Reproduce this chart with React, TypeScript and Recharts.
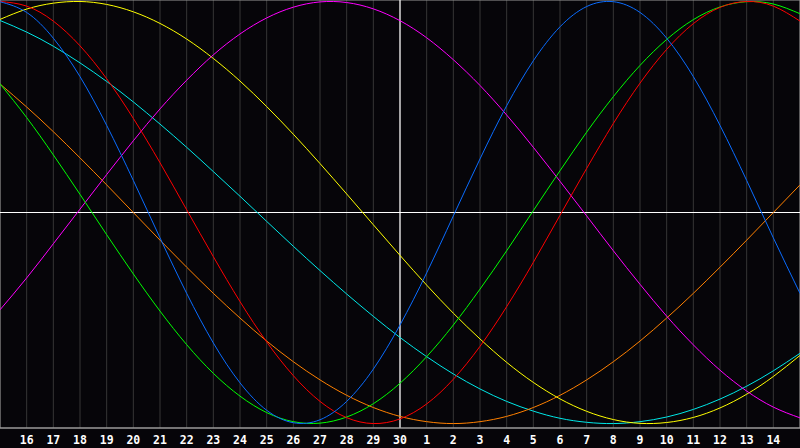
import React from 'react';
import {
  LineChart,
  Line,
  XAxis,
  YAxis,
  CartesianGrid,
  ReferenceLine,
  ReferenceArea,
} from 'recharts';

// day labels, one per column edge (first and last are off-axis)
const days = [
  '15', '16', '17', '18', '19', '20', '21', '22', '23', '24', '25', '26', '27', '28', '29', '30',
  '1', '2', '3', '4', '5', '6', '7', '8', '9', '10', '11', '12', '13', '14', '15',
];

const physical = [
  0.999, 0.948, 0.826, 0.644, 0.413, 0.152, -0.12, -0.383, -0.618, -0.807, -0.937, -0.996, -0.982,
  -0.895, -0.742, -0.533, -0.286, -0.016, 0.254, 0.506, 0.719, 0.88, 0.976, 0.999, 0.948, 0.826,
  0.644, 0.413, 0.152, -0.12, -0.383,
];

const emotional = [
  1.0, 0.978, 0.907, 0.79, 0.634, 0.446, 0.236, 0.013, -0.209, -0.422, -0.613, -0.773, -0.895,
  -0.972, -1.0, -0.978, -0.907, -0.79, -0.634, -0.446, -0.236, -0.013, 0.209, 0.422, 0.613, 0.773,
  0.895, 0.972, 1.0, 0.978, 0.907,
];

const intellectual = [
  0.61, 0.45, 0.273, 0.086, -0.105, -0.291, -0.467, -0.626, -0.762, -0.87, -0.948, -0.991, -0.998,
  -0.969, -0.906, -0.809, -0.683, -0.533, -0.363, -0.181, 0.009, 0.198, 0.381, 0.549, 0.697, 0.82,
  0.914, 0.974, 0.999, 0.988, 0.942,
];

const intuitive = [
  -0.461, -0.31, -0.148, 0.016, 0.18, 0.34, 0.491, 0.627, 0.747, 0.846, 0.922, 0.973, 0.998, 0.995,
  0.965, 0.909, 0.828, 0.724, 0.602, 0.462, 0.309, 0.148, -0.016, -0.181, -0.34, -0.491, -0.627,
  -0.747, -0.846, -0.922, -0.973,
];

const aesthetic = [
  0.915, 0.964, 0.992, 1.0, 0.986, 0.951, 0.896, 0.822, 0.73, 0.623, 0.502, 0.371, 0.232, 0.088,
  -0.058, -0.203, -0.344, -0.477, -0.599, -0.71, -0.805, -0.883, -0.942, -0.981, -0.999, -0.995,
  -0.971, -0.926, -0.861, -0.777, -0.677,
];

const awareness = [
  0.609, 0.5, 0.383, 0.259, 0.131, 0.0, -0.131, -0.259, -0.383, -0.5, -0.609, -0.707, -0.793,
  -0.866, -0.924, -0.966, -0.991, -1.0, -0.991, -0.966, -0.924, -0.866, -0.793, -0.707, -0.609,
  -0.5, -0.383, -0.259, -0.131, 0.0, 0.131,
];

const spiritual = [
  0.91, 0.855, 0.788, 0.709, 0.621, 0.524, 0.419, 0.309, 0.194, 0.077, -0.042, -0.16, -0.275,
  -0.386, -0.492, -0.592, -0.683, -0.765, -0.836, -0.895, -0.941, -0.975, -0.994, -1.0, -0.991,
  -0.969, -0.933, -0.884, -0.823, -0.75, -0.667,
];

const series = [
  { key: 'spiritual', color: '#00e8e8' },
  { key: 'awareness', color: '#ff8000' },
  { key: 'aesthetic', color: '#ffff00' },
  { key: 'intuitive', color: '#ff00ff' },
  { key: 'intellectual', color: '#00ff00' },
  { key: 'emotional', color: '#ff0000' },
  { key: 'physical', color: '#0a6cff' },
];

const data = days.map((day, i) => ({
  i,
  day,
  physical: physical[i],
  emotional: emotional[i],
  intellectual: intellectual[i],
  intuitive: intuitive[i],
  aesthetic: aesthetic[i],
  awareness: awareness[i],
  spiritual: spiritual[i],
}));

const ticks = data.slice(1, days.length - 1).map((d) => d.i);
const yDomain = [-1.021, 1.007];

export default function App() {
  return (
    <div style={{ width: 800, height: 448, background: '#060509' }}>
      <style>{'body{margin:0;background:#060509}'}</style>
      <LineChart
        width={800}
        height={448}
        data={data}
        margin={{ top: 0, right: 0, left: 0, bottom: 0 }}
      >
        <CartesianGrid vertical horizontal={false} stroke="#363636" />
        <XAxis
          dataKey="i"
          type="number"
          domain={[0, 30]}
          ticks={ticks}
          interval={0}
          height={20}
          tickLine={false}
          axisLine={{ stroke: '#9a9a9a' }}
          tickFormatter={(v) => days[v]}
          tick={{ fill: '#ffffff', fontSize: 11.5, fontWeight: 'bold', fontFamily: 'DejaVu Sans Mono' }}
        />
        <YAxis hide type="number" domain={yDomain} />
        <ReferenceArea
          x1={0}
          x2={30}
          y1={yDomain[0]}
          y2={yDomain[1]}
          fill="none"
          stroke="#9a9a9a"
          fillOpacity={0}
        />
        <ReferenceLine y={0} stroke="#ffffff" strokeWidth={1.2} />
        <ReferenceLine x={15} stroke="#ffffff" strokeWidth={1.2} />
        {series.map((s) => (
          <Line
            key={s.key}
            type="natural"
            dataKey={s.key}
            stroke={s.color}
            strokeWidth={1}
            dot={false}
            activeDot={false}
            isAnimationActive={false}
          />
        ))}
      </LineChart>
    </div>
  );
}
